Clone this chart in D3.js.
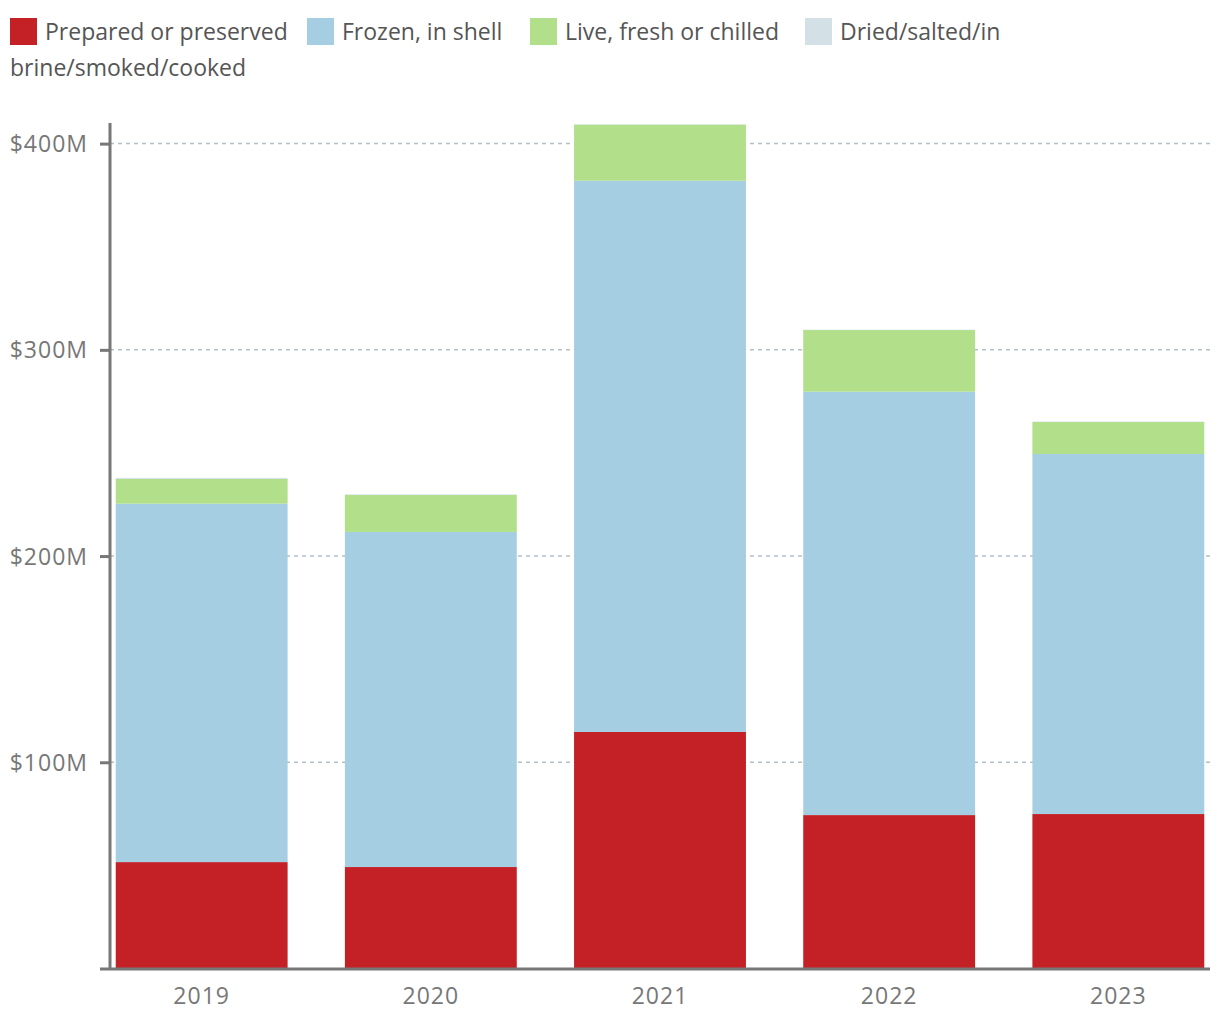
<!DOCTYPE html>
<html>
<head>
<meta charset="utf-8">
<script src="https://cdn.jsdelivr.net/npm/d3@7"></script>
<style>
  html, body { margin: 0; padding: 0; background: #fff; }
  svg { display: block; font-family: "Open Sans", "Noto Sans", sans-serif; }
</style>
</head>
<body>
<svg id="chart" width="1220" height="1020"></svg>
<script>
const years = ["2019", "2020", "2021", "2022", "2023"];
const seriesNames = ["Prepared or preserved", "Frozen, in shell", "Live, fresh or chilled", "Dried/salted/in brine/smoked/cooked"];
const prepared = [51.6, 49.2, 114.7, 74.4, 74.9];
const frozen = [173.8, 162.5, 267.3, 205.3, 174.6];
const live = [12.0, 17.9, 27.2, 29.9, 15.5];
const dried = [0.5, 0.3, 0.2, 0.2, 0.2];
const yTicks = [100, 200, 300, 400];
const colors = ["#c42127", "#a6cee2", "#b2df8a", "#d3e0e6"];

const svg = d3.select("#chart");
const keys = ["prepared", "frozen", "live", "dried"];
const seriesArrays = [prepared, frozen, live, dried];
const rows = years.map((y, i) => {
  const r = { year: y };
  keys.forEach((k, j) => r[k] = seriesArrays[j][i]);
  return r;
});
const stacked = d3.stack().keys(keys)(rows);

const x = d3.scaleBand().domain(years).range([110, 1210]).paddingInner(0.25).paddingOuter(0.025);
const y = d3.scaleLinear().domain([0, 410]).range([968.5, 123]);

// gridlines
svg.append("g").selectAll("line").data(yTicks).join("line")
  .attr("x1", 110).attr("x2", 1210)
  .attr("y1", d => y(d)).attr("y2", d => y(d))
  .attr("stroke", "#b5bfc6").attr("stroke-width", 1.5).attr("stroke-dasharray", "4,4");

// bars
svg.append("g").selectAll("g").data(stacked).join("g")
  .attr("fill", (d, i) => colors[i])
  .selectAll("rect").data(d => d).join("rect")
  .attr("x", d => x(d.data.year))
  .attr("width", x.bandwidth())
  .attr("y", d => y(d[1]))
  .attr("height", d => y(d[0]) - y(d[1]));

// y axis
const yAxis = d3.axisLeft(y).tickValues(yTicks).tickSize(10).tickPadding(12)
  .tickFormat(d => "$" + d + "M");
const gy = svg.append("g").attr("transform", "translate(110,0)").call(yAxis);
gy.select(".domain").attr("stroke", "#777").attr("stroke-width", 3).attr("d", `M0,${y(410)}V970`);
gy.selectAll(".tick line").attr("stroke", "#777").attr("stroke-width", 3);
gy.selectAll(".tick text").attr("fill", "#777").attr("font-size", 23).attr("letter-spacing", 1)
  .attr("font-family", "Open Sans, sans-serif").attr("dy", "0.35em");

// x axis
const xAxis = d3.axisBottom(x).tickSize(0).tickPadding(19);
const gx = svg.append("g").attr("transform", "translate(0,969)").call(xAxis);
gx.select(".domain").attr("stroke", "#777").attr("stroke-width", 3).attr("d", "M100,0H1210");
gx.selectAll(".tick text").attr("fill", "#777").attr("font-size", 23).attr("letter-spacing", 1)
  .attr("font-family", "Open Sans, sans-serif");

// legend
const legend = svg.append("g").attr("font-size", 23).attr("fill", "#555");
const legendX = [10, 307, 530, 805];
seriesNames.forEach((name, i) => {
  legend.append("rect").attr("x", legendX[i]).attr("y", 18).attr("width", 27).attr("height", 27).attr("fill", colors[i]);
  if (i < 3) {
    legend.append("text").attr("x", legendX[i] + 35).attr("y", 40).text(name);
  } else {
    legend.append("text").attr("x", legendX[i] + 35).attr("y", 40).text("Dried/salted/in");
    legend.append("text").attr("x", 10).attr("y", 76).text("brine/smoked/cooked");
  }
});
</script>
</body>
</html>
